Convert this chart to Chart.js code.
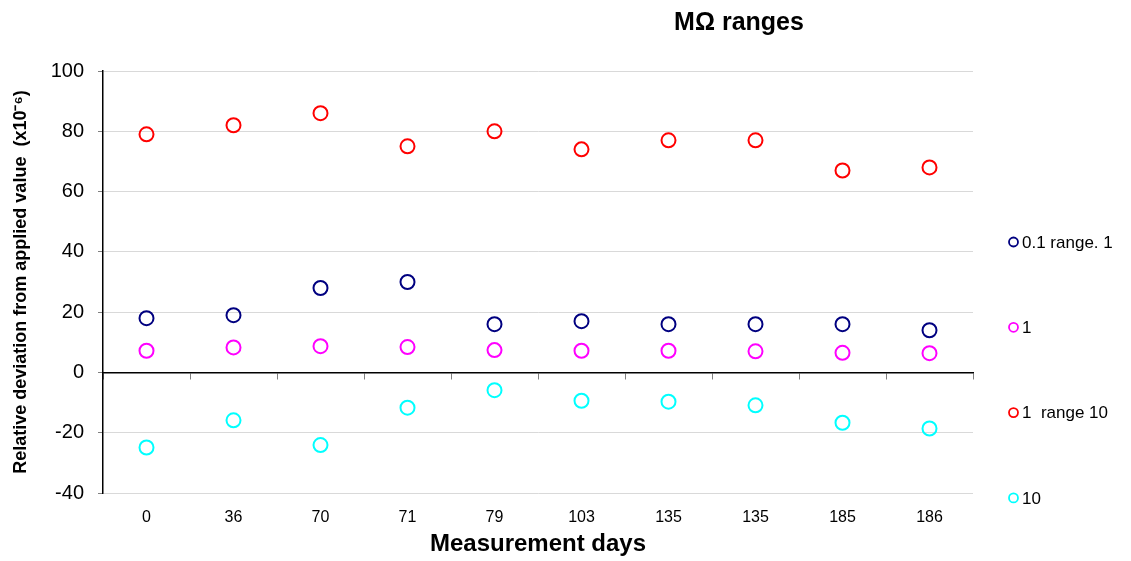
<!DOCTYPE html>
<html>
<head>
<meta charset="utf-8">
<script src="https://cdn.jsdelivr.net/npm/chart.js@4"></script>
<style>
  html, body { margin: 0; padding: 0; background: #fff; }
  #wrap { width: 1131px; height: 561px; }
</style>
</head>
<body>
<div id="wrap"><canvas id="mohmChart"></canvas></div>
<script>
// MΩ ranges - relative deviation per measurement day
const days = ['0', '36', '70', '71', '79', '103', '135', '135', '185', '186'];
const yTicks = [-40, -20, 0, 20, 40, 60, 80, 100];

const range01 = [18, 19, 28, 30, 16, 17, 16, 16, 16, 14];
const range1 = [7.2, 8.3, 8.7, 8.4, 7.4, 7.2, 7.2, 7.0, 6.5, 6.4];
const range1r10 = [79, 82, 86, 75, 80, 74, 77, 77, 67, 68];
const range10 = [-24.9, -15.9, -24.1, -11.7, -5.9, -9.4, -9.7, -10.9, -16.7, -18.6];

const seriesNames = ['0.1 range. 1', '1', '1  range 10', '10'];
const seriesColors = ['#000080', '#ff00ff', '#ff0000', '#00ffff'];

const FONT = "'Liberation Sans', Arial, sans-serif";

function mkSet(label, data, color) {
  return {
    label: label,
    data: data,
    showLine: false,
    pointStyle: 'circle',
    pointRadius: 7,
    pointHoverRadius: 7,
    pointBorderWidth: 2,
    borderColor: color,
    pointBorderColor: color,
    backgroundColor: 'rgba(0,0,0,0)',
    pointBackgroundColor: 'rgba(0,0,0,0)'
  };
}

// 제목 + 오른쪽 범례 (Excel 스타일 간격)
const decorPlugin = {
  id: 'decor',
  afterDraw(chart) {
    const c = chart.ctx;
    c.save();
    c.fillStyle = '#000';
    c.font = 'bold 25px ' + FONT;
    c.textAlign = 'center';
    c.textBaseline = 'middle';
    c.fillText('MΩ ranges', 739, 23);

    c.font = '17px ' + FONT;
    c.textAlign = 'left';
    chart.data.datasets.forEach((ds, i) => {
      const y = 242 + i * 85.3;
      c.beginPath();
      c.arc(1013.5, y, 4.5, 0, Math.PI * 2);
      c.strokeStyle = ds.borderColor;
      c.lineWidth = 1.8;
      c.stroke();
      c.fillStyle = '#000';
      c.fillText(ds.label, 1022, y + 1);
    });
    c.restore();
  }
};

new Chart(document.getElementById('mohmChart'), {
  type: 'line',
  data: {
    labels: days,
    datasets: [
      mkSet(seriesNames[0], range01, seriesColors[0]),
      mkSet(seriesNames[1], range1, seriesColors[1]),
      mkSet(seriesNames[2], range1r10, seriesColors[2]),
      mkSet(seriesNames[3], range10, seriesColors[3])
    ]
  },
  options: {
    responsive: true,
    maintainAspectRatio: false,
    animation: false,
    layout: { padding: { left: 0, right: 158, top: 71, bottom: 0 } },
    plugins: {
      legend: { display: false },
      title: { display: false },
      tooltip: { enabled: false }
    },
    scales: {
      x: {
        type: 'category',
        offset: true,
        grid: { display: false, drawTicks: false },
        border: { display: false },
        ticks: { color: '#000', font: { family: FONT, size: 16 }, padding: 15, autoSkip: false, maxRotation: 0 },
        title: {
          display: true,
          text: 'Measurement days',
          color: '#000',
          font: { family: FONT, size: 24, weight: 'bold' },
          padding: { top: 0, bottom: 2 }
        },
        afterFit(s) { s.height = 68; }
      },
      x2: {
        type: 'category',
        position: { y: 0 },
        offset: true,
        grid: { drawOnChartArea: false, drawTicks: true, tickLength: 6, tickColor: '#808080', offset: true },
        border: { color: '#000', width: 1.5 },
        ticks: { display: false }
      },
      y: {
        min: yTicks[0],
        max: yTicks[yTicks.length - 1],
        afterBuildTicks(s) { s.ticks = yTicks.map(v => ({ value: v })); },
        grid: {
          color: ctx => (ctx.tick && ctx.tick.value === 0) ? '#000' : '#d9d9d9',
          tickColor: '#808080',
          tickLength: 5
        },
        border: { color: '#000', width: 1.5 },
        ticks: { color: '#000', font: { family: FONT, size: 20 }, padding: 14 },
        title: {
          display: true,
          text: 'Relative deviation from applied value  (x10⁻⁶)',
          color: '#000',
          font: { family: FONT, size: 18, weight: 'bold' },
          padding: { top: 10, bottom: 0 }
        },
        afterFit(s) { s.width = 103; }
      }
    }
  },
  plugins: [decorPlugin]
});
</script>
</body>
</html>
